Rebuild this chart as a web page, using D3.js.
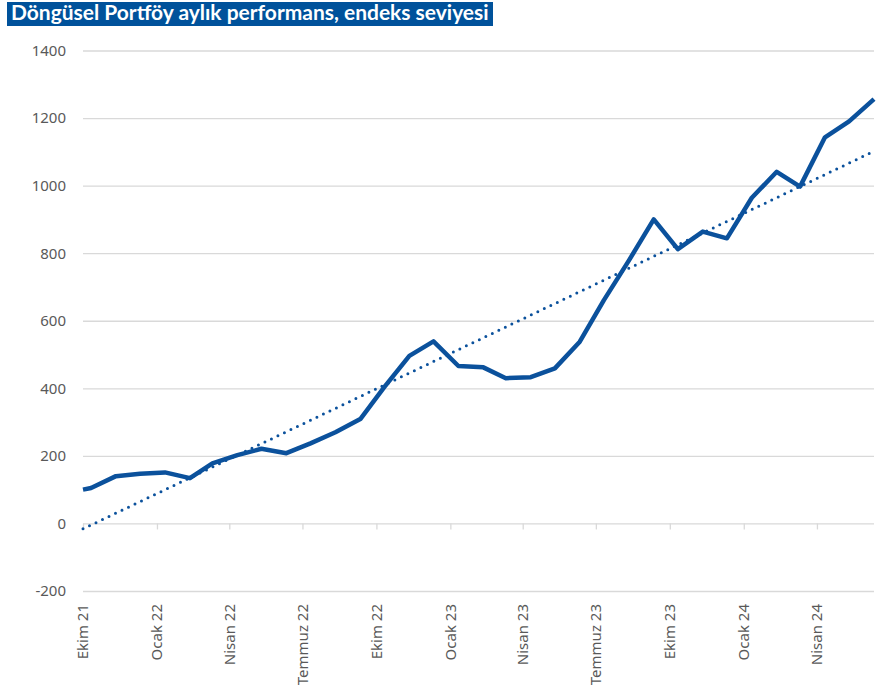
<!DOCTYPE html>
<html>
<head>
<meta charset="utf-8">
<script src="https://cdn.jsdelivr.net/npm/d3@7"></script>
<style>
	body { margin: 0; background: #fff; }
	svg { display: block; }
</style>
</head>
<body>
<div id="chart"></div>
<script>
//DATA
var titleText = 'Döngüsel Portföy aylık performans, endeks seviyesi';

var dates = ['2021-10-01', '2021-10-11', '2021-11-11', '2021-12-11', '2022-01-11', '2022-02-11',
	'2022-03-11', '2022-04-11', '2022-05-11', '2022-06-11', '2022-07-11', '2022-08-11',
	'2022-09-11', '2022-10-11', '2022-11-11', '2022-12-11', '2023-01-11', '2023-02-11',
	'2023-03-11', '2023-04-11', '2023-05-11', '2023-06-11', '2023-07-11', '2023-08-11',
	'2023-09-11', '2023-10-11', '2023-11-11', '2023-12-11', '2024-01-11', '2024-02-11',
	'2024-03-11', '2024-04-11', '2024-05-11', '2024-06-11'];

var values = [100, 105, 140, 147, 151, 134,
	178, 202, 221, 208, 237, 270,
	309, 404, 496, 539, 466, 462,
	430, 433, 459, 538, 661, 778,
	900, 812, 864, 844, 964, 1041,
	997, 1143, 1190, 1256];

var tickDates = ['2021-10-01', '2022-01-01', '2022-04-01', '2022-07-01', '2022-10-01', '2023-01-01',
	'2023-04-01', '2023-07-01', '2023-10-01', '2024-01-01', '2024-04-01'];
var tickLabels = ['Ekim 21', 'Ocak 22', 'Nisan 22', 'Temmuz 22', 'Ekim 22', 'Ocak 23',
	'Nisan 23', 'Temmuz 23', 'Ekim 23', 'Ocak 24', 'Nisan 24'];

var yTicks = [-200, 0, 200, 400, 600, 800, 1000, 1200, 1400];

//SET UP
var width = 884,
	height = 697,
	blue = '#0b519c',
	grey = '#d9d9d9',
	labelColor = '#595959',
	labelFont = '"Noto Sans", "Open Sans", sans-serif';

var parse = d3.timeParse('%Y-%m-%d');

var points = dates.map(function(d, i){
	return {date: parse(d), value: values[i]};
});

var svg = d3.select('#chart').append('svg')
	.attr('width', width)
	.attr('height', height);

svg.append('rect')
	.attr('width', width)
	.attr('height', height)
	.attr('fill', '#fff');

var x = d3.scaleTime()
	.domain(d3.extent(points, function(d){ return d.date; }))
	.range([83, 874]);

var y = d3.scaleLinear()
	.domain([-200, 1400])
	.range([591, 50.5]);

//TITLE BAR
svg.append('rect')
	.attr('x', 7)
	.attr('y', 2)
	.attr('width', 486)
	.attr('height', 24)
	.attr('fill', '#00529b');

var title = svg.append('text')
	.attr('x', 11)
	.attr('y', 19.5)
	.attr('fill', '#fff')
	.style('font-family', 'Lato, "Open Sans", sans-serif')
	.style('font-weight', 'bold')
	.style('font-size', '19px')
	.text(titleText);

//fit title to the bar
var tw = title.node().getComputedTextLength();
title.style('font-size', (19 * 478 / tw) + 'px');

//GRIDLINES + Y AXIS
var yAxis = svg.append('g')
	.attr('transform', 'translate(83,0)')
	.call(d3.axisLeft(y)
		.tickValues(yTicks)
		.tickSize(-(874 - 83))
		.tickPadding(17)
		.tickFormat(function(d){ return String(d); }));

yAxis.attr('font-family', null).attr('font-size', null);
yAxis.select('.domain').remove();
yAxis.selectAll('line')
	.attr('stroke', grey)
	.attr('stroke-width', 1.3);
yAxis.selectAll('text')
	.attr('fill', labelColor)
	.attr('font-family', labelFont)
	.attr('font-size', 15);

//X AXIS TICKS (on the zero line)
var xTicks = svg.append('g')
	.attr('transform', 'translate(0,' + y(0) + ')')
	.call(d3.axisBottom(x)
		.tickValues(tickDates.map(parse))
		.tickSize(6)
		.tickFormat(''));

xTicks.select('.domain').remove();
xTicks.selectAll('line')
	.attr('stroke', grey)
	.attr('stroke-width', 1.3);

//X LABELS (low position, rotated)
svg.append('g').selectAll('text')
	.data(tickDates)
	.enter().append('text')
	.attr('transform', function(d){
		return 'translate(' + x(parse(d)) + ',604) rotate(-90)';
	})
	.attr('dy', '0.35em')
	.attr('text-anchor', 'end')
	.attr('fill', labelColor)
	.attr('font-family', labelFont)
	.attr('font-size', 15)
	.text(function(d, i){ return tickLabels[i]; });

//TRENDLINE (least squares on date)
var xs = points.map(function(d){ return d.date.getTime() / 864e5; }),
	mx = d3.mean(xs),
	my = d3.mean(values),
	sxy = d3.sum(xs, function(v, i){ return (v - mx) * (values[i] - my); }),
	sxx = d3.sum(xs, function(v){ return (v - mx) * (v - mx); }),
	slope = sxy / sxx,
	intercept = my - slope * mx;

var ends = [points[0].date, points[points.length - 1].date];

svg.append('path')
	.datum(ends)
	.attr('fill', 'none')
	.attr('stroke', blue)
	.attr('stroke-width', 3)
	.attr('stroke-linecap', 'round')
	.attr('stroke-dasharray', '0,7.2')
	.attr('d', d3.line()
		.x(function(d){ return x(d); })
		.y(function(d){ return y(intercept + slope * d.getTime() / 864e5); }));

//MAIN LINE
svg.append('path')
	.datum(points)
	.attr('fill', 'none')
	.attr('stroke', blue)
	.attr('stroke-width', 4.5)
	.attr('stroke-linejoin', 'round')
	.attr('d', d3.line()
		.x(function(d){ return x(d.date); })
		.y(function(d){ return y(d.value); }));
</script>
</body>
</html>
